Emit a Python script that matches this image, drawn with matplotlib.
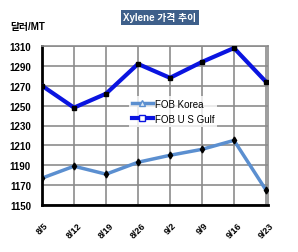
import matplotlib.pyplot as plt
import numpy as np

plt.rcParams['font.family'] = ['Liberation Sans', 'Noto Sans CJK KR', 'DejaVu Sans']

dates = ['8/5', '8/12', '8/19', '8/26', '9/2', '9/9', '9/16', '9/23']
fob_korea = [1177, 1189, 1181, 1193, 1200, 1206, 1215, 1165]
fob_usgulf = [1270, 1248, 1262, 1292, 1278, 1294, 1308, 1274]
yticks = [1150, 1170, 1190, 1210, 1230, 1250, 1270, 1290, 1310]

fig = plt.figure(figsize=(2.98, 2.53), dpi=100)
ax = fig.add_axes([0.141, 0.186, 0.758, 0.628])

x = np.arange(len(dates))
ax.plot(x, fob_korea, color='#5b8fd0', lw=2.5, marker='d', ms=3.5,
        mfc='black', mec='black', label='FOB Korea', zorder=3)
ax.plot(x, fob_usgulf, color='#0a14e0', lw=3, marker='s', ms=3.5,
        mfc='black', mec='black', label='FOB U S Gulf', zorder=3)

ax.set_xlim(0, 7.06)
ax.set_ylim(1150, 1310)
ax.set_yticks(yticks)
ax.set_xticks(x)
ax.set_xticklabels(dates, rotation=45, fontsize=6.5, fontweight='bold')
ax.tick_params(axis='y', labelsize=7, length=0, pad=8)
ax.tick_params(axis='x', length=0, pad=11)
for lab in ax.get_yticklabels():
    lab.set_fontweight('bold')
ax.grid(True, color='#8c8c8c', lw=1.2)
ax.set_axisbelow(True)
for s in ['left', 'bottom']:
    ax.spines[s].set_linewidth(2)
for s in ['top', 'right']:
    ax.spines[s].set_color('#8c8c8c')
    ax.spines[s].set_linewidth(1.2)

h1 = plt.Line2D([], [], color='#5b8fd0', lw=2.5, marker='^', ms=4, mfc='#dde8f5', mec='#5b8fd0')
h2 = plt.Line2D([], [], color='#0a14e0', lw=3, marker='s', ms=4, mfc='white', mec='#0a14e0')
leg = ax.legend([h1, h2], ['FOB Korea', 'FOB U S Gulf'], loc='center',
                bbox_to_anchor=(0.58, 0.59), frameon=True, fontsize=7,
                handlelength=2.2, handletextpad=0.2, borderpad=0.3,
                labelspacing=0.5, fancybox=False, edgecolor='white')
leg.get_frame().set_linewidth(0)

fig.text(0.537, 0.928, 'Xylene 가격 추이', color='white', fontsize=7, fontweight='bold',
         ha='center', va='center',
         bbox=dict(boxstyle='square,pad=0.25', fc='#3e5f8a', ec='none'))
fig.text(0.035, 0.895, '달러/MT', fontsize=7, fontweight='bold', ha='left', va='center')

fig.savefig('out.png', dpi=100)
